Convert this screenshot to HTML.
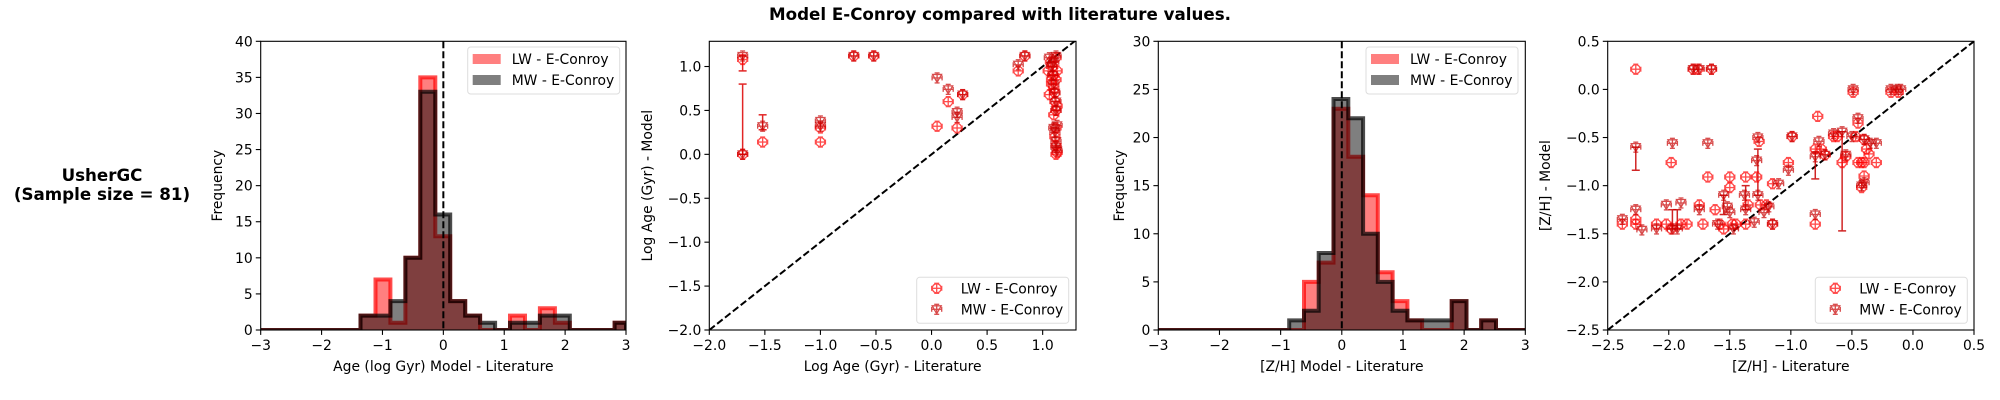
<!DOCTYPE html>
<html><head><meta charset="utf-8"><style>
html,body{margin:0;padding:0;background:#fff;}
svg{display:block;font-family:"DejaVu Sans","Liberation Sans",sans-serif;}
</style></head><body>
<svg id="fig" width="2000" height="400" viewBox="0 0 2000 400" xmlns="http://www.w3.org/2000/svg">
<text x="1000" y="20" text-anchor="middle" font-weight="bold" font-size="16.7">Model E-Conroy compared with literature values.</text>
<text x="102" y="181" text-anchor="middle" font-weight="bold" font-size="16.7">UsherGC</text>
<text x="102" y="200" text-anchor="middle" font-weight="bold" font-size="16.7">(Sample size = 81)</text>
</svg>
<script>
// ---------- data ----------
const ageBinStart = -1.36, ageBinWidth = 0.2455;
const ageLW = [2,7,1,10,35,13,4,2,0,0,2,0,3,1,0,0,0,1];
const ageMW = [2,2,4,10,33,16,4,2,1,0,1,1,2,2,0,0,0,1];
const zhBinStart = -0.86, zhBinWidth = 0.2415;
const zhLW = [0,5,7,23,18,14,6,3,1,0,0,3,0,1];
const zhMW = [1,2,8,24,22,10,5,2,1,1,1,3,0,1];

const ageLitLW = [-1.7,-1.7,-1.52,-1.0,-1.0,-0.7,-0.52,0.05,0.15,0.23,0.28,0.78,0.84,1.05,1.06,1.07,1.08,1.09,1.1,1.1,1.11,1.12,1.12,1.13,1.08,1.1,1.12,1.11,1.12,1.13,1.12,1.11,1.12,1.13];
const ageModLW = [1.08,0.0,0.14,0.14,0.30,1.12,1.12,0.32,0.60,0.30,0.68,0.95,1.12,0.95,0.68,1.05,0.85,1.0,0.9,0.75,0.6,0.5,1.1,0.95,0.8,0.45,0.3,0.2,0.1,0.02,0.0,0.7,0.85,0.55];
const ageLitMW = [-1.7,-1.7,-1.52,-1.0,-1.0,-0.7,-0.52,0.05,0.15,0.23,0.23,0.28,0.78,0.84,1.06,1.08,1.09,1.1,1.11,1.12,1.12,1.13,1.1,1.11,1.12,1.12,1.13,1.12,1.1];
const ageModMW = [1.12,0.0,0.32,0.38,0.32,1.12,1.12,0.87,0.74,0.48,0.42,0.68,1.02,1.12,1.1,1.0,0.9,0.8,0.7,0.6,0.5,0.33,0.3,0.25,0.15,0.08,0.04,1.12,1.05];
const ageErrLit = [-1.7,-1.52,-1.7];
const ageErrLo = [0.0,0.28,0.95];
const ageErrHi = [0.8,0.45,1.12];

const zLitLW = [-2.38,-2.27,-2.27,-2.27,-2.1,-2.02,-1.98,-1.98,-1.9,-1.85,-1.8,-1.76,-1.75,-1.72,-1.68,-1.65,-1.62,-1.58,-1.55,-1.5,-1.5,-1.48,-1.45,-1.37,-1.37,-1.35,-1.28,-1.26,-1.25,-1.2,-1.15,-1.15,-1.02,-0.99,-0.8,-0.8,-0.78,-0.75,-0.72,-0.65,-0.62,-0.58,-0.55,-0.49,-0.47,-0.45,-0.45,-0.42,-0.4,-0.4,-0.4,-0.38,-0.36,-0.3,-0.18,-0.12,-0.42];
const zModLW = [-1.40,-1.35,-1.40,0.21,-1.40,-1.40,-0.76,-1.45,-1.40,-1.40,0.21,0.21,-1.20,-1.40,-0.91,0.21,-1.25,-1.40,-1.45,-0.91,-1.02,-1.40,-1.40,-0.91,-1.40,-1.20,-0.91,-0.54,-1.20,-1.20,-1.40,-0.98,-0.76,-0.49,-0.62,-1.40,-0.28,-0.62,-0.68,-0.49,-0.49,-0.76,-0.70,-0.03,-0.49,-0.35,-0.76,-0.76,-0.52,-0.90,-0.76,-0.62,-0.67,-0.76,-0.03,-0.03,-1.02];
const zLitMW = [-2.38,-2.27,-2.27,-2.22,-2.1,-2.02,-1.97,-1.97,-1.93,-1.9,-1.8,-1.75,-1.75,-1.68,-1.65,-1.6,-1.55,-1.52,-1.5,-1.47,-1.38,-1.37,-1.3,-1.27,-1.28,-1.27,-1.22,-1.18,-1.15,-1.1,-1.02,-0.99,-0.8,-0.8,-0.77,-0.72,-0.65,-0.58,-0.55,-0.49,-0.45,-0.5,-0.4,-0.4,-0.35,-0.3,-0.18,-0.13,-0.1,-0.42];
const zModMW = [-1.35,-0.60,-1.25,-1.46,-1.45,-1.20,-0.56,-1.45,-1.45,-1.18,0.21,0.21,-1.25,-0.56,0.21,-1.40,-1.10,-1.22,-1.28,-1.45,-1.10,-1.25,-1.38,-0.50,-0.74,-1.10,-1.28,-1.22,-1.40,-0.98,-0.84,-0.49,-0.70,-1.30,-0.54,-0.68,-0.46,-0.44,-0.68,0.0,-0.30,-0.49,-0.52,-0.97,-0.56,-0.56,0.0,0.0,0.0,-1.0];
const zErrLit = [-2.27,-1.97,-1.93,-1.55,-1.37,-1.27,-0.8,-0.58];
const zErrLo = [-0.84,-1.45,-1.45,-1.3,-1.25,-1.1,-0.93,-1.47];
const zErrHi = [-0.60,-1.25,-1.25,-1.1,-1.0,-0.62,-0.65,-0.44];

// ---------- helpers ----------
const NS="http://www.w3.org/2000/svg";
const svg=document.getElementById('fig');
function mk(tag,attrs,parent){const e=document.createElementNS(NS,tag);for(const k in attrs)e.setAttribute(k,attrs[k]);(parent||svg).appendChild(e);return e;}
function scale(d0,d1,r0,r1){return v=>r0+(v-d0)*(r1-r0)/(d1-d0);}
const TOP=41.3,BOT=330,FS=13.9;

function axes(name,L,R,xd,yd,xticks,yticks,xfmt,yfmt,xlabel,ylabel,ylabX){
  const g=mk('g',{});
  
  
  const sx=scale(xd[0],xd[1],L,R), sy=scale(yd[0],yd[1],BOT,TOP);
  xticks.forEach(t=>{const x=sx(t);
    const l=mk('line',{x1:x,x2:x,y1:BOT,y2:BOT+4.9,stroke:'#000','stroke-width':1.1},g);
    
    const tx=mk('text',{x:x,y:BOT+20,'text-anchor':'middle','font-size':FS},g);
    
    tx.textContent=xfmt(t);});
  yticks.forEach(t=>{const y=sy(t);
    const l=mk('line',{x1:L-4.9,x2:L,y1:y,y2:y,stroke:'#000','stroke-width':1.1},g);
    
    const tx=mk('text',{x:L-8,y:y+5,'text-anchor':'end','font-size':FS},g);
    
    tx.textContent=yfmt(t);});
  const xl=mk('text',{x:(L+R)/2,y:BOT+41,'text-anchor':'middle','font-size':FS},g);
  
  xl.textContent=xlabel;
  const yl=mk('text',{x:0,y:0,'text-anchor':'middle','font-size':FS,transform:`translate(${ylabX},${(TOP+BOT)/2}) rotate(-90)`},g);
  
  yl.textContent=ylabel;
  const cp=mk('clipPath',{id:name+'-clip'},g);
  mk('rect',{x:L,y:TOP,width:R-L,height:BOT-TOP},cp);
  const plot=mk('g',{'clip-path':`url(#${name}-clip)`},g);
  
  return {g,plot,sx,sy,L,R};
}
function frame(a){const r=mk('rect',{x:a.L,y:TOP,width:a.R-a.L,height:BOT-TOP,fill:'none',stroke:'#000','stroke-width':1.1},a.g);
  }

function hist(a,start,w,counts,fill,stroke,name){
  let pts=[[a.sx(-3),a.sy(0)],[a.sx(start),a.sy(0)]];
  counts.forEach((c,i)=>{const x0=a.sx(start+i*w),x1=a.sx(Math.min(3,start+(i+1)*w));pts.push([x0,a.sy(c)],[x1,a.sy(c)]);});
  const last=Math.min(3,start+counts.length*w);
  pts.push([a.sx(last),a.sy(0)],[a.sx(3),a.sy(0)]);
  const d='M'+pts.map(p=>p[0].toFixed(1)+','+p[1].toFixed(1)).join('L');
  const f=mk('path',{d:d+'Z',fill:fill,stroke:'none'},a.plot);
  
  const s=mk('path',{d:d,fill:'none',stroke:stroke,'stroke-width':4,'stroke-linejoin':'miter'},a.plot);
  
}
function vline(a,x){const l=mk('line',{x1:a.sx(x),x2:a.sx(x),y1:TOP,y2:BOT,stroke:'#000','stroke-width':2,'stroke-dasharray':'7,3'},a.plot);
  }
function diag(a,v0,v1){const l=mk('line',{x1:a.sx(v0),y1:a.sy(v0),x2:a.sx(v1),y2:a.sy(v1),stroke:'#000','stroke-width':2,'stroke-dasharray':'7,3'},a.plot);
  }

function marker(parent,x,y,type,col){
  const g=mk('g',{stroke:col,fill:'none','stroke-width':1.3,opacity:0.7},parent);
  mk('line',{x1:x-5,x2:x+5,y1:y,y2:y},g);mk('line',{x1:x,x2:x,y1:y-5,y2:y+5},g);
  mk('line',{x1:x-5,x2:x-5,y1:y-2.5,y2:y+2.5},g);mk('line',{x1:x+5,x2:x+5,y1:y-2.5,y2:y+2.5},g);
  mk('line',{x1:x-2.5,x2:x+2.5,y1:y-5,y2:y-5},g);mk('line',{x1:x-2.5,x2:x+2.5,y1:y+5,y2:y+5},g);
  if(type==='o')mk('circle',{cx:x,cy:y,r:4.5},g);
  else mk('path',{d:`M${x-4.5},${y-3.5}L${x+4.5},${y-3.5}L${x},${y+4.5}Z`},g);
  return g;
}
function scatter(a,xs,ys,type,col,name){
  xs.forEach((v,i)=>{const g=marker(a.plot,a.sx(v),a.sy(ys[i]),type,col);
    });
}
function errbars(a,xs,lo,hi,col){
  xs.forEach((v,i)=>{const x=a.sx(v);const g=mk('g',{stroke:col,'stroke-width':1.5,opacity:0.85},a.plot);
    
    mk('line',{x1:x,x2:x,y1:a.sy(lo[i]),y2:a.sy(hi[i])},g);
    mk('line',{x1:x-4,x2:x+4,y1:a.sy(lo[i]),y2:a.sy(lo[i])},g);
    mk('line',{x1:x-4,x2:x+4,y1:a.sy(hi[i]),y2:a.sy(hi[i])},g);});
}
function legendHist(a,x,y){
  const g=mk('g',{},a.g);
  mk('rect',{x:x,y:y,width:152,height:47,rx:3,fill:'#fff','fill-opacity':0.8,stroke:'#ddd'},g);
  const e1=mk('g',{},g);
  mk('rect',{x:x+5,y:y+7,width:28,height:10,fill:'rgba(255,0,0,0.5)'},e1);
  mk('text',{x:x+44,y:y+17,'font-size':FS},e1).textContent='LW - E-Conroy';
  const e2=mk('g',{},g);
  mk('rect',{x:x+5,y:y+28,width:28,height:10,fill:'rgba(0,0,0,0.5)'},e2);
  mk('text',{x:x+44,y:y+38,'font-size':FS},e2).textContent='MW - E-Conroy';
}
function legendScatter(a,x,y){
  const g=mk('g',{},a.g);
  mk('rect',{x:x,y:y,width:152,height:46,rx:3,fill:'#fff','fill-opacity':0.8,stroke:'#ddd'},g);
  const e1=mk('g',{},g);
  marker(e1,x+20,y+11,'o','#ff0000');
  mk('text',{x:x+44,y:y+16,'font-size':FS},e1).textContent='LW - E-Conroy';
  const e2=mk('g',{},g);
  marker(e2,x+20,y+32,'v','#c80000');
  mk('text',{x:x+44,y:y+37,'font-size':FS},e2).textContent='MW - E-Conroy';
}

// ---------- panel 1 ----------
const p1=axes('age-histogram',260.7,626,[-3,3],[0,40],[-3,-2,-1,0,1,2,3],[0,5,10,15,20,25,30,35,40],t=>t<0?'\u2212'+(-t):''+t,t=>''+t,'Age (log Gyr) Model - Literature','Frequency',222);
hist(p1,ageBinStart,ageBinWidth,ageLW,'rgba(255,0,0,0.5)','rgba(255,0,0,0.7)','lw-histogram');
hist(p1,ageBinStart,ageBinWidth,ageMW,'rgba(0,0,0,0.5)','rgba(0,0,0,0.7)','mw-histogram');
vline(p1,0);frame(p1);legendHist(p1,467.7,47);

// ---------- panel 2 ----------
const f1=t=>(t<0?'\u2212':'')+Math.abs(t).toFixed(1);
const p2=axes('age-scatter',709.3,1076,[-2,1.3],[-2,1.287],[-2,-1.5,-1,-0.5,0,0.5,1],[-2,-1.5,-1,-0.5,0,0.5,1],f1,f1,'Log Age (Gyr) - Literature','Log Age (Gyr) - Model',652);
diag(p2,-2,1.3);
errbars(p2,ageErrLit,ageErrLo,ageErrHi,'#dd0000');
scatter(p2,ageLitLW,ageModLW,'o','#ff0000','lw-point');
scatter(p2,ageLitMW,ageModMW,'v','#c80000','mw-point');
frame(p2);legendScatter(p2,916.7,277.3);

// ---------- panel 3 ----------
const p3=axes('zh-histogram',1158.3,1525.3,[-3,3],[0,30],[-3,-2,-1,0,1,2,3],[0,5,10,15,20,25,30],t=>t<0?'\u2212'+(-t):''+t,t=>''+t,'[Z/H] Model - Literature','Frequency',1124);
hist(p3,zhBinStart,zhBinWidth,zhLW,'rgba(255,0,0,0.5)','rgba(255,0,0,0.7)','lw-histogram');
hist(p3,zhBinStart,zhBinWidth,zhMW,'rgba(0,0,0,0.5)','rgba(0,0,0,0.7)','mw-histogram');
vline(p3,0);frame(p3);legendHist(p3,1366,47);

// ---------- panel 4 ----------
const p4=axes('zh-scatter',1607.7,1974,[-2.5,0.5],[-2.5,0.5],[-2.5,-2,-1.5,-1,-0.5,0,0.5],[-2.5,-2,-1.5,-1,-0.5,0,0.5],f1,f1,'[Z/H] - Literature','[Z/H] - Model',1550);
diag(p4,-2.5,0.5);
errbars(p4,zErrLit,zErrLo,zErrHi,'#c80000');
scatter(p4,zLitLW,zModLW,'o','#ff0000','lw-point');
scatter(p4,zLitMW,zModMW,'v','#c80000','mw-point');
frame(p4);legendScatter(p4,1815.3,277.3);
</script>
</body></html>
